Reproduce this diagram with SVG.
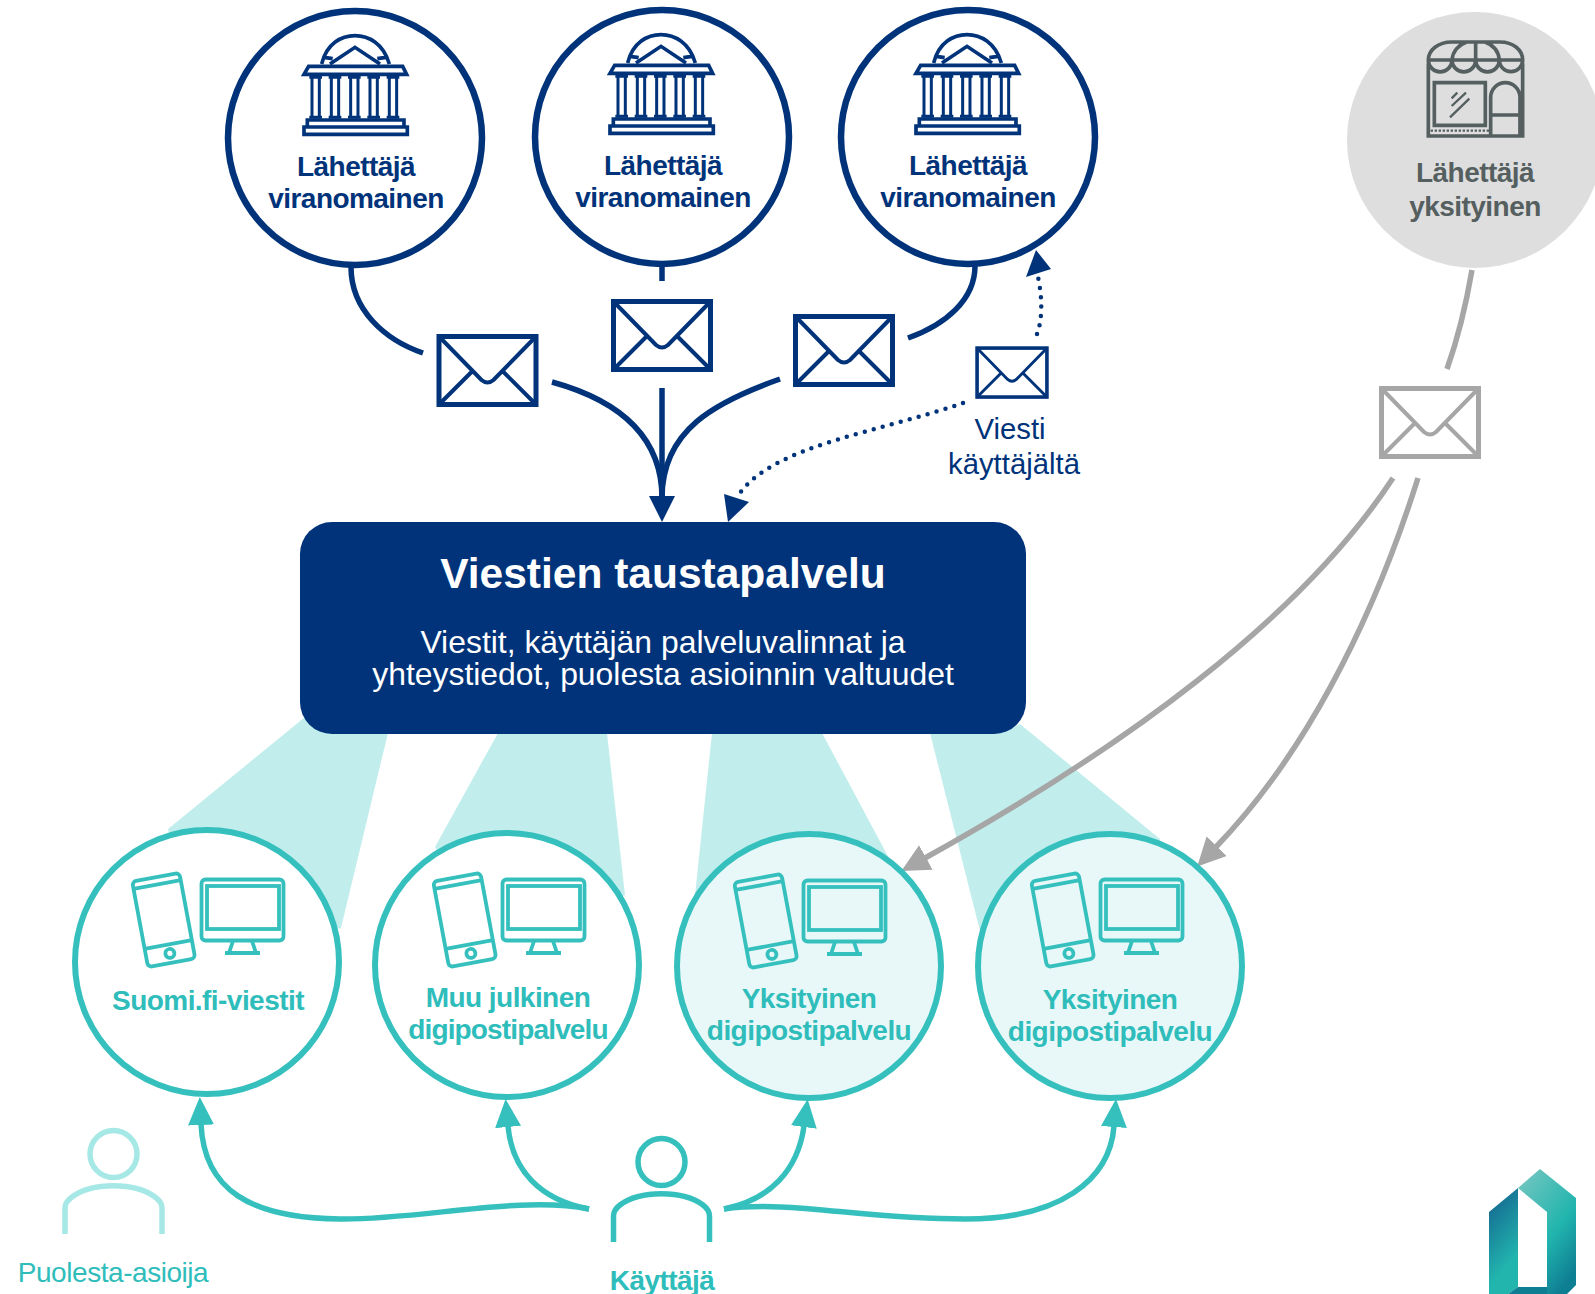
<svg xmlns="http://www.w3.org/2000/svg" xmlns:xlink="http://www.w3.org/1999/xlink" width="1595" height="1294" viewBox="0 0 1595 1294">
<style>
text{font-family:"Liberation Sans",Arial,sans-serif;text-anchor:middle}
.b{font-weight:700;font-size:28px;letter-spacing:-.55px}
.navy{fill:#00337a}.teal{fill:#2fbdbb}.gr{fill:#555f60}
.cn{fill:#fff;stroke:#00337a;stroke-width:6.5}
.ct{fill:#fff;stroke:#35c0be;stroke-width:6}
.cl{fill:#e8f8f8;stroke:#35c0be;stroke-width:6}
.ln{fill:none;stroke:#00337a;stroke-width:5.5}
.lg{fill:none;stroke:#a6a6a6;stroke-width:5.5}
.lt{fill:none;stroke:#35c0be;stroke-width:5.5}
.dot{fill:none;stroke:#00337a;stroke-width:4.5;stroke-linecap:round;stroke-dasharray:0 9.3}
.band{fill:#c1eeec}
.ic{fill:none;stroke:#00337a;stroke-width:11}
.st{fill:none;stroke:#555f60;stroke-width:11}
.dv{fill:none;stroke:#35c0be;stroke-width:3.8}
</style>
<defs>
<marker id="an" markerUnits="userSpaceOnUse" markerWidth="28" markerHeight="28" refX="1" refY="13" orient="auto"><path d="M0 0L26 13L0 26Z" fill="#00337a"/></marker>
<marker id="ag" markerUnits="userSpaceOnUse" markerWidth="30" markerHeight="30" refX="1" refY="14" orient="auto"><path d="M0 0L28 14L0 28Z" fill="#a6a6a6"/></marker>
<marker id="at" markerUnits="userSpaceOnUse" markerWidth="30" markerHeight="28" refX="1" refY="13" orient="auto"><path d="M0 0L28 13L0 26Z" fill="#35c0be"/></marker>
<g id="bld">
<path d="M305 192C320 130 365 107 405 107C445 107 490 130 508 192M330 192L405 142L480 192M312 172L338 176M498 172L472 176"/>
<path d="M266 199H548L560 223H252Z"/>
<path d="M268 232H306M276 232V350M298 232V350M268 352H306M326 232H364M334 232V350M356 232V350M326 352H364M384 232H422M392 232V350M414 232V350M384 352H422M442 232H480M450 232V350M472 232V350M442 352H480M500 232H538M508 232V350M530 232V350M500 352H538" stroke-width="9"/>
<path d="M262 360H552V381H262ZM252 381H562V403H252Z"/>
</g>
<g id="env"><rect x="1.500" y="1.500" width="97" height="68" fill="none" stroke-width="5"/><path d="M3 3L44 45Q50 50 56 45L97 3M3 68L36 35M97 68L64 35" fill="none" stroke-width="4"/></g>
<g id="dev">
<g transform="rotate(-10.5 163.7 920)"><rect x="139.700" y="876.500" width="48" height="87" rx="4"/><path d="M139.700 884H187.700M139.700 945H187.700"/><circle cx="163.700" cy="954" r="4.500"/></g>
<rect x="201.500" y="879.500" width="82" height="61" rx="4"/><rect x="207" y="886" width="72" height="43"/>
<path d="M233 941L229 953M252 941L256 953M225 953H260"/>
</g>
</defs>

<g id="bands">
<path class="band" d="M305 717L168 829L207 962L341 928L388 733Z"/>
<path class="band" d="M498 733L435 847L507 965L625 895L607 733Z"/>
<path class="band" d="M712 733L695 895L809 966L890 860L822 733Z"/>
<path class="band" d="M930 733L980 931L1110 966L1160 839L1020 724L1000 733Z"/>
</g>

<g id="connectors">
<path class="ln" d="M351 267C351 310 385 340 423 353"/>
<path class="ln" d="M662 267V281"/>
<path class="ln" d="M975 266C975 300 945 325 908 338"/>
<path class="ln" d="M552 382C610 398 662 430 662 498"/>
<path class="ln" marker-end="url(#an)" d="M662 388V497"/>
<path class="ln" d="M780 379C715 402 662 430 662 498"/>
<path class="dot" d="M963 403C880 432 775 445 740 493"/>
<polygon fill="#00337a" points="728,522 724,494 749,502"/>
<path class="dot" d="M1037 334C1043 318 1042 296 1038 277"/>
<polygon fill="#00337a" points="1036,250 1026,277 1051,269"/>
<path class="lg" d="M1472 270C1466 305 1458 338 1447 369"/>
<path class="lg" marker-end="url(#ag)" d="M1393 478C1300 620 1120 750 925 858"/>
<path class="lg" marker-end="url(#ag)" d="M1418 478C1370 630 1300 760 1216 847"/>
<path class="lt" marker-end="url(#at)" d="M589 1209C520 1195 420 1220 340 1219C250 1218 204 1190 201 1124"/>
<path class="lt" marker-end="url(#at)" d="M589 1209C540 1200 512 1170 508 1126"/>
<path class="lt" marker-end="url(#at)" d="M724 1209C770 1200 798 1170 804 1126"/>
<path class="lt" marker-end="url(#at)" d="M724 1209C790 1200 860 1219 965 1219C1060 1219 1110 1180 1114 1126"/>
</g>

<g id="sender-1"><circle class="cn" cx="355" cy="138" r="127"/><use href="#bld" class="ic" transform="translate(220 0) scale(.3333)"/><text class="b navy" x="356" y="176">Lähettäjä</text><text class="b navy" x="356" y="208">viranomainen</text></g>
<g id="sender-2"><circle class="cn" cx="662" cy="137" r="127"/><use href="#bld" class="ic" transform="translate(526 -1) scale(.3333)"/><text class="b navy" x="663" y="175">Lähettäjä</text><text class="b navy" x="663" y="207">viranomainen</text></g>
<g id="sender-3"><circle class="cn" cx="968" cy="137" r="127"/><use href="#bld" class="ic" transform="translate(832 -1) scale(.3333)"/><text class="b navy" x="968" y="175">Lähettäjä</text><text class="b navy" x="968" y="207">viranomainen</text></g>

<g id="sender-private"><circle cx="1475" cy="140" r="128" fill="#dedede"/>
<g class="st" transform="translate(1340 0) scale(.3333)">
<path d="M265 180C265 150 295 126 335 126H480C520 126 548 150 548 180ZM265 180A35.400 35.400 0 0 0 336 180A35.400 35.400 0 0 0 407 180A35.400 35.400 0 0 0 478 180A35 35 0 0 0 548 180M407 126V180M336 180C338 155 355 135 380 126M478 180C476 155 460 135 435 126"/>
<path d="M265 190V408H548V190M283 248H436V376H283ZM452 408V292A44 44 0 0 1 540 292V408M452 345H535"/>
<path d="M272 392H448" stroke-dasharray="7 5" stroke-width="7"/>
<path d="M335 295L352 278M335 318L378 278M330 352L388 296" stroke-width="7"/>
</g>
<text class="b gr" x="1475" y="182">Lähettäjä</text><text class="b gr" x="1475" y="216">yksityinen</text></g>

<g id="envelopes" fill="none" stroke="#00337a">
<use href="#env" stroke="#00337a" transform="translate(437.500 335)"/>
<use href="#env" stroke="#00337a" transform="translate(612 300)"/>
<use href="#env" stroke="#00337a" transform="translate(794 315)"/>
<use href="#env" stroke="#00337a" transform="translate(976 347) scale(.72)"/>
<use href="#env" stroke="#a6a6a6" transform="translate(1380 387)"/>
</g>
<g id="label-viesti"><text class="navy" x="1010" y="439" font-size="29.300">Viesti</text><text class="navy" x="1014" y="474" font-size="29.300">käyttäjältä</text></g>

<g id="backend"><rect x="300" y="522" width="726" height="212" rx="32" fill="#00337a"/>
<text x="663" y="588" fill="#fff" font-size="42.500" font-weight="700">Viestien taustapalvelu</text>
<text x="663" y="653" fill="#fff" font-size="31.900">Viestit, käyttäjän palveluvalinnat ja</text>
<text x="663" y="685" fill="#fff" font-size="31.900">yhteystiedot, puolesta asioinnin valtuudet</text></g>

<g id="service-1"><circle class="ct" cx="207" cy="962" r="132"/><use href="#dev" class="dv"/><text class="b teal" x="208" y="1010" letter-spacing="-.8">Suomi.fi-viestit</text></g>
<g id="service-2"><circle class="ct" cx="507" cy="965" r="132"/><use href="#dev" class="dv" transform="translate(301 0)"/><text class="b teal" x="508" y="1007" letter-spacing="-.8">Muu julkinen</text><text class="b teal" x="508" y="1039" style="letter-spacing:-.85px">digipostipalvelu</text></g>
<g id="service-3"><circle class="cl" cx="809" cy="966" r="132"/><use href="#dev" class="dv" transform="translate(602 1)"/><text class="b teal" x="809" y="1008">Yksityinen</text><text class="b teal" x="809" y="1040">digipostipalvelu</text></g>
<g id="service-4"><circle class="cl" cx="1110" cy="966" r="132"/><use href="#dev" class="dv" transform="translate(899 0)"/><text class="b teal" x="1110" y="1009">Yksityinen</text><text class="b teal" x="1110" y="1041">digipostipalvelu</text></g>

<g id="user"><circle cx="661.500" cy="1162" r="23.500" fill="none" stroke="#35c0be" stroke-width="5.500"/><path d="M613.500 1242V1216Q613.500 1210 620 1205C640 1190 683 1190 703 1205Q709.500 1210 709.500 1216V1242" fill="none" stroke="#35c0be" stroke-width="5.500"/><text class="b teal" x="662" y="1290">Käyttäjä</text></g>
<g id="proxy"><circle cx="113.500" cy="1154" r="23.500" fill="none" stroke="#a6e8e6" stroke-width="5.500"/><path d="M65 1234V1208Q65 1202 72 1197C92 1182 135 1182 155 1197Q162 1202 162 1208V1234" fill="none" stroke="#a6e8e6" stroke-width="5.500"/><text class="teal" x="113" y="1282" font-size="28" letter-spacing="-.45">Puolesta-asioija</text></g>

<defs>
<linearGradient id="gl" x1="0" y1="0" x2=".3" y2="1"><stop offset="0" stop-color="#125e8c"/><stop offset=".85" stop-color="#22b5ae"/></linearGradient>
<linearGradient id="gr" x1=".1" y1="0" x2=".7" y2="1"><stop offset="0" stop-color="#74c6c0"/><stop offset=".6" stop-color="#22b5ae"/><stop offset="1" stop-color="#0e7e93"/></linearGradient>
</defs>
<g id="logo">
<path fill="url(#gl)" d="M1489 1212L1518 1188V1287L1508 1294H1489Z"/>
<path fill="url(#gr)" d="M1540 1169L1576 1198V1285L1567 1294H1547V1212L1518 1188Z"/>
<path fill="#0e7e93" d="M1518 1287H1547V1294H1508Z"/>
</g>
</svg>
